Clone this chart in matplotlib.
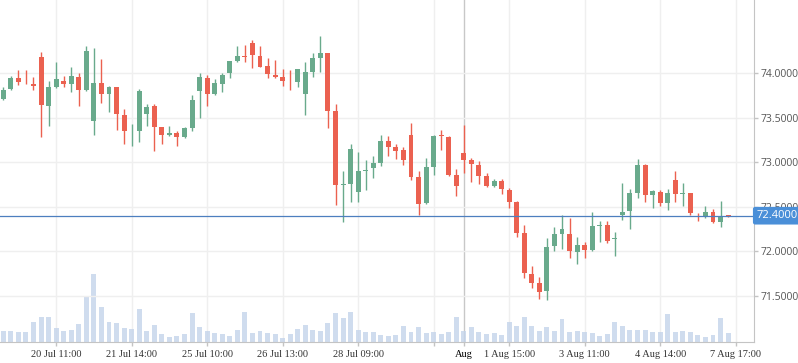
import matplotlib
matplotlib.use("Agg")
import matplotlib.pyplot as plt
import numpy as np

# OHLC, one candle per bar slot
opens = [73.71, 73.82, 73.94, 73.89, 73.88, 74.18, 73.63, 73.84, 73.91, 73.88,
         73.96, 73.81, 73.46, 73.89, 73.77, 73.84, 73.53, 73.345, 73.35, 73.54,
         73.63, 73.39, 73.30, 73.33, 73.28, 73.38, 73.80, 73.95, 73.76, 73.88,
         74.00, 74.14, 74.195, 74.34, 74.19, 74.08, 73.98, 73.96, 73.905, 73.90,
         73.76, 74.01, 74.17, 74.22, 73.58, 72.74, 72.76, 72.67, 72.905, 72.93,
         72.995, 73.24, 73.17, 73.14, 73.30, 72.83, 72.54, 72.95, 73.30, 73.285,
         72.86, 73.10, 73.02, 72.97, 72.84, 72.73, 72.79, 72.69, 72.55, 72.21,
         71.75, 71.65, 71.55, 72.06, 72.20, 72.19, 71.99, 72.075, 72.01, 72.28,
         72.30, 72.135, 72.41, 72.45, 72.66, 72.97, 72.63, 72.67, 72.54, 72.80,
         72.64, 72.66, 72.40, 72.38, 72.445, 72.325, 72.405]
highs = [73.84, 73.97, 74.04, 74.03, 73.96, 74.24, 73.91, 74.13, 73.97, 74.07,
         74.00, 74.30, 74.28, 74.16, 73.85, 73.84, 73.60, 73.43, 73.82, 73.65,
         73.65, 73.40, 73.41, 73.35, 73.39, 73.75, 74.00, 73.98, 73.93, 74.00,
         74.14, 74.30, 74.31, 74.37, 74.30, 74.17, 74.15, 74.05, 74.03, 74.05,
         74.13, 74.22, 74.42, 74.22, 73.65, 72.905, 73.21, 73.12, 73.03, 73.07,
         73.31, 73.29, 73.20, 73.17, 73.44, 72.905, 73.05, 73.31, 73.365, 73.29,
         72.92, 73.42, 73.05, 73.01, 72.88, 72.815, 72.815, 72.71, 72.56, 72.30,
         71.84, 71.71, 72.15, 72.27, 72.41, 72.37, 72.165, 72.11, 72.445, 72.345,
         72.345, 72.22, 72.77, 72.70, 73.04, 72.975, 72.69, 72.69, 72.70, 72.905,
         72.77, 72.66, 72.425, 72.51, 72.48, 72.56, 72.41]
lows = [73.70, 73.81, 73.87, 73.88, 73.81, 73.28, 73.41, 73.83, 73.84, 73.79,
        73.63, 73.80, 73.31, 73.66, 73.56, 73.36, 73.20, 73.18, 73.23, 73.41,
        73.13, 73.21, 73.29, 73.18, 73.27, 73.35, 73.50, 73.63, 73.755, 73.79,
        73.95, 74.12, 74.12, 74.06, 74.07, 73.95, 73.95, 73.86, 73.81, 73.84,
        73.53, 73.96, 74.01, 73.38, 72.52, 72.33, 72.55, 72.55, 72.685, 72.82,
        72.96, 73.07, 73.04, 72.97, 72.80, 72.41, 72.53, 72.86, 73.14, 72.84,
        72.62, 72.88, 72.78, 72.76, 72.725, 72.72, 72.64, 72.49, 72.16, 71.70,
        71.585, 71.46, 71.45, 72.00, 72.03, 71.93, 71.855, 71.93, 72.00, 72.11,
        72.09, 71.945, 72.35, 72.25, 72.595, 72.55, 72.49, 72.505, 72.46, 72.55,
        72.505, 72.41, 72.34, 72.37, 72.315, 72.27, 72.39]
closes = [73.81, 73.94, 73.90, 73.885, 73.85, 73.64, 73.84, 73.93, 73.88, 73.97,
          73.81, 74.25, 73.89, 73.77, 73.84, 73.54, 73.35, 73.355, 73.80, 73.62,
          73.39, 73.30, 73.33, 73.28, 73.38, 73.70, 73.96, 73.76, 73.89, 73.98,
          74.14, 74.19, 74.185, 74.20, 74.07, 73.99, 73.96, 73.91, 73.895, 74.05,
          74.01, 74.17, 74.22, 73.58, 72.74, 72.76, 73.15, 72.905, 72.915, 72.995,
          73.24, 73.17, 73.13, 73.03, 72.83, 72.53, 72.95, 73.29, 73.29, 72.86,
          72.73, 73.03, 72.98, 72.84, 72.73, 72.79, 72.70, 72.55, 72.21, 71.755,
          71.65, 71.54, 72.05, 72.20, 72.255, 72.00, 72.075, 72.01, 72.28, 72.30,
          72.12, 72.145, 72.445, 72.66, 72.97, 72.63, 72.68, 72.54, 72.66, 72.64,
          72.66, 72.43, 72.38, 72.445, 72.325, 72.40, 72.395]
volumes = [340, 340, 310, 310, 610, 760, 760, 430, 340, 370,
           550, 1390, 2050, 1060, 610, 580, 430, 400, 1000, 340,
           520, 250, 160, 190, 250, 880, 460, 340, 280, 250,
           190, 370, 910, 280, 340, 280, 250, 130, 250, 400,
           520, 370, 340, 580, 880, 730, 910, 370, 310, 310,
           220, 190, 220, 490, 310, 460, 280, 310, 250, 310,
           760, 340, 460, 310, 250, 280, 220, 610, 490, 760,
           490, 340, 460, 340, 700, 310, 340, 310, 280, 190,
           250, 610, 490, 370, 370, 370, 310, 310, 850, 310,
           340, 310, 220, 160, 220, 730, 280]

tick_idx = [7, 17, 27, 37, 47, 57, 61, 67, 77, 87, 97]
tick_labels = ["20 Jul 11:00", "21 Jul 14:00", "25 Jul 10:00", "26 Jul 13:00",
               "28 Jul 09:00", "", "Aug", "1 Aug 15:00", "3 Aug 11:00",
               "4 Aug 14:00", "7 Aug 17:00"]
price_ticks = [71.5, 72.0, 72.5, 73.0, 73.5, 74.0]
last_price = 72.40

UP = "#69aa8c"
DOWN = "#eb6150"

o = np.array(opens)
h = np.array(highs)
l = np.array(lows)
c = np.array(closes)
x = np.arange(len(o))
colors = np.where(c >= o, UP, DOWN)

W, H = 798, 363
fig = plt.figure(figsize=(W / 100, H / 100), dpi=100)
rect = [0, 1 - 342 / H, 754 / W, 342 / H]

ax_vol = fig.add_axes(rect)
ax = fig.add_axes(rect, sharex=ax_vol)
ax.patch.set_visible(False)

# volume underneath
ax_vol.bar(x, volumes, width=0.66, color="#c4d4ea", alpha=0.8, zorder=2)
ax_vol.set_ylim(0, 10260)
ax_vol.set_yticks([])
for s in ax_vol.spines.values():
    s.set_visible(False)
ax_vol.tick_params(bottom=False, labelbottom=False)

ax.set_xlim(-0.437, 99.43)
ax.set_ylim(70.983, 74.82)

# grid
for p in price_ticks:
    ax.axhline(p, color="#efefef", lw=1, zorder=0)
for i in tick_idx:
    ax_vol.axvline(i, color="#c8c8c8" if i == 61 else "#efefef", lw=1, zorder=0)

# candles
ax.vlines(x, l, h, color=colors, lw=1, zorder=3)
body_lo = np.minimum(o, c)
body_h = np.maximum(np.abs(c - o), 0.008)
ax.bar(x, body_h, bottom=body_lo, width=0.66, color=colors, lw=0, zorder=4)

ax.axhline(last_price, color="#4d7fbf", lw=0.9, zorder=5)

# axes styling
for side in ["top", "left"]:
    ax.spines[side].set_visible(False)
ax.spines["right"].set_color("#c4c4c4")
ax.spines["bottom"].set_color("#c4c4c4")

ax.yaxis.tick_right()
ax.set_yticks(price_ticks)
ax.set_yticklabels([f"{p:.4f}" for p in price_ticks])
ax.tick_params(axis="y", length=3, width=1, color="#c4c4c4", pad=2,
               labelsize=7.5, labelcolor="#555555")
for t in ax.get_yticklabels():
    t.set_family("Open Sans")

ax.set_xticks(tick_idx)
ax.set_xticklabels(tick_labels)
ax.tick_params(axis="x", length=3, width=1, color="#c4c4c4", pad=3,
               labelsize=7.5, labelcolor="#333333")
for t in ax.get_xticklabels():
    t.set_family("Liberation Serif")
    if t.get_text() == "Aug":
        t.set_color("black")

# last-price tag sits over the 72.5 label, as in the source chart
ax.text(1.003, last_price, f"{last_price:.4f}", transform=ax.get_yaxis_transform(),
        ha="left", va="center", color="white", fontsize=8, family="Open Sans",
        bbox=dict(boxstyle="round,pad=0.3,rounding_size=0.2", fc="#4a8fd8", ec="none"),
        zorder=10, clip_on=False)

fig.savefig("out.png", dpi=100)
